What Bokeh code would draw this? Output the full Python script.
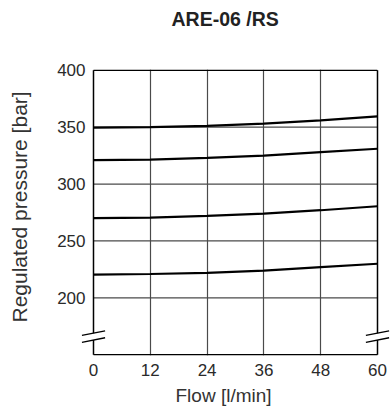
from bokeh.plotting import figure
from bokeh.models import Range1d, FixedTicker, LinearAxis, Title
from bokeh.embed import file_html
from bokeh.resources import INLINE

# ---- data ----
flow = [0, 12, 24, 36, 48, 60]
p350 = [349.5, 350.0, 351.0, 353.0, 356.0, 359.5]
p320 = [321.0, 321.5, 323.0, 325.0, 328.0, 331.0]
p270 = [270.0, 270.5, 272.0, 274.0, 277.0, 280.5]
p220 = [220.5, 221.0, 222.0, 224.0, 227.0, 230.0]
x_ticks = [0, 12, 24, 36, 48, 60]
y_ticks = [200, 250, 300, 350, 400]
title_text = "ARE-06 /RS"
x_label = "Flow [l/min]"
y_label = "Regulated pressure [bar]"
x_min, x_max = 0, 60
y_min, y_max = 150, 400
y_break = 166.0

FONT = "Liberation Sans"
TXT = "#2a2a2a"
GRID = "#4a4a4a"

# frame is a little larger than the data area so break marks / borders fit
x_pad_l, x_pad_r = 2.535, 2.958
y_pad = 0.6

p = figure(width=392, height=413, output_backend="svg", toolbar_location=None,
           title=None,
           x_range=Range1d(x_min - x_pad_l, x_max + x_pad_r),
           y_range=Range1d(y_min - y_pad, y_max + y_pad),
           min_border_left=81, min_border_right=1, min_border_top=69,
           min_border_bottom=58)
p.outline_line_color = None
p.background_fill_color = "white"
p.border_fill_color = "white"

# axes
p.xaxis.ticker = FixedTicker(ticks=x_ticks)
p.yaxis.ticker = FixedTicker(ticks=y_ticks)
for ax in (p.xaxis[0], p.yaxis[0]):
    ax.major_tick_out = 0
    ax.major_tick_in = 0
    ax.minor_tick_out = 0
    ax.minor_tick_in = 0
    ax.axis_line_color = None
    ax.major_label_text_font = FONT
    ax.major_label_text_font_size = "17px"
    ax.major_label_text_color = TXT
p.xaxis.major_label_standoff = 8
p.yaxis.major_label_standoff = -4


def spacer(size, at):
    # an axis with one invisible (white) tick and no label text,
    # used only to reserve room in a side panel
    return LinearAxis(ticker=FixedTicker(ticks=[at]), axis_line_color=None,
                      major_tick_out=size, major_tick_in=0, minor_tick_out=0,
                      minor_tick_in=0, major_label_standoff=0,
                      major_tick_line_color="white",
                      major_label_overrides={at: ""},
                      major_label_text_font_size="0px")


# title (above, pushed up by a spacer)
p.add_layout(spacer(38, x_max), "above")
p.add_layout(Title(text=title_text, align="left", offset=90, text_font=FONT,
                   text_font_size="19.5px", text_font_style="bold",
                   text_color="#222222", standoff=4), "above")

# x label
p.add_layout(Title(text=x_label, align="left", offset=94, text_font=FONT,
                   text_font_size="19px", text_font_style="normal",
                   text_color="#333333", standoff=9), "below")

# y label (left, pushed out by a spacer)
p.add_layout(spacer(22, y_min), "left")
p.add_layout(Title(text=y_label, align="left", offset=33, text_font=FONT,
                   text_font_size="21px", text_font_style="normal",
                   text_color="#333333", standoff=4), "left")

# grid
p.xgrid.ticker = FixedTicker(ticks=x_ticks[1:-1])
p.xgrid.grid_line_color = GRID
p.xgrid.grid_line_width = 1.2
p.ygrid.grid_line_color = None
gy = y_ticks[:-1]
p.segment(x0=[x_min] * len(gy), y0=gy, x1=[x_max] * len(gy), y1=gy,
          line_color=GRID, line_width=1.2)

# curves
for ys in (p350, p320, p270, p220):
    p.line(flow, ys, line_color="black", line_width=2.2)

# frame lines (top, bottom, left axis and right border with break gaps)
gap_lo, gap_hi = y_break - 3.0, y_break + 3.0
fx0 = [x_min, x_min, x_min, x_min, x_max, x_max]
fy0 = [y_max, y_min, y_min, gap_hi, y_min, gap_hi]
fx1 = [x_max, x_max, x_min, x_min, x_max, x_max]
fy1 = [y_max, y_min, gap_lo, y_max, gap_lo, y_max]
p.segment(x0=fx0, y0=fy0, x1=fx1, y1=fy1, line_color="black", line_width=1.5)

# break marks
dx, dy = 2.45, 2.0
bx0, by0, bx1, by1 = [], [], [], []
for cx in (x_min, x_max):
    for cy in (gap_lo, gap_hi):
        bx0.append(cx - dx); by0.append(cy - dy)
        bx1.append(cx + dx); by1.append(cy + dy)
p.segment(x0=bx0, y0=by0, x1=bx1, y1=by1, line_color="black", line_width=1.3)

open("out.html", "w").write(file_html(p, INLINE))
